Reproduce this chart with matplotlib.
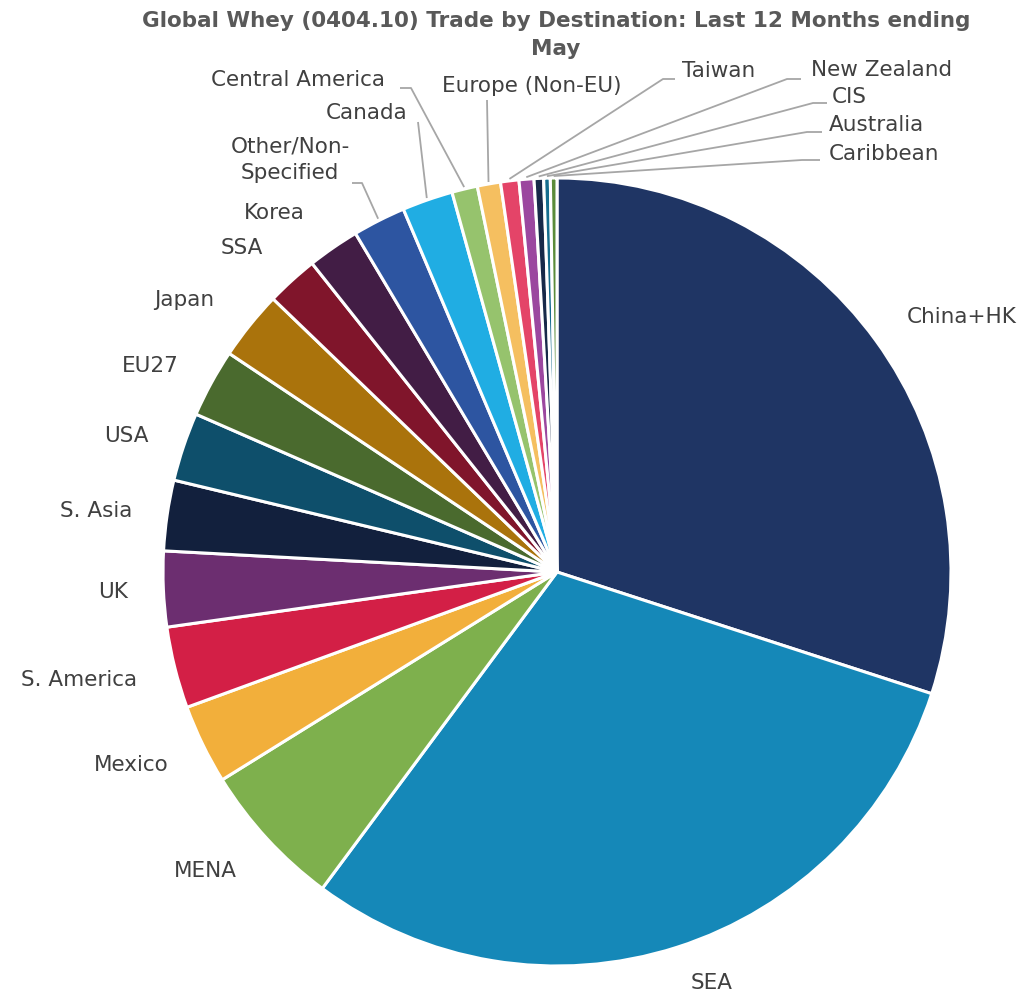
import matplotlib
matplotlib.use("Agg")
import matplotlib.pyplot as plt
import numpy as np

# Share of global whey (0404.10) trade by destination, % of total
categories = [
    "China+HK", "SEA", "MENA", "Mexico", "S. America", "UK", "S. Asia", "USA",
    "EU27", "Japan", "SSA", "Korea", "Other/Non-\nSpecified", "Canada",
    "Central America", "Europe (Non-EU)", "Taiwan", "New Zealand", "CIS",
    "Australia", "Caribbean",
]
shares = [
    29.98, 30.14, 6.00, 3.26, 3.34, 3.09, 2.89, 2.81,
    2.80, 2.83, 2.13, 2.13, 2.17, 2.08,
    1.05, 0.95, 0.75, 0.61, 0.39,
    0.27, 0.27,
]
colors = [
    "#1F3564", "#1588B8", "#7EB04D", "#F2AF3B", "#D31F46", "#6C2E70", "#12203D", "#0E4F6B",
    "#4A6A2E", "#AA730C", "#80152B", "#421D45", "#2D55A1", "#20ADE3",
    "#96C36D", "#F5BF60", "#E44468", "#9B479F", "#172949",
    "#156D8E", "#5B8C3A",
]

W, H = 1030, 996
CX, CY, R = 557, 572, 394


def to_data(px, py):
    return ((px - CX) / R, (CY - py) / R)


# label anchors in pixel space: (x, y, ha)
label_pos = {
    "China+HK": (962, 317, "center"),
    "SEA": (712, 983, "center"),
    "MENA": (205, 871, "center"),
    "Mexico": (131, 765, "center"),
    "S. America": (79, 680, "center"),
    "UK": (113, 592, "center"),
    "S. Asia": (96, 511, "center"),
    "USA": (126, 436, "center"),
    "EU27": (150, 366, "center"),
    "Japan": (184, 300, "center"),
    "SSA": (242, 248, "center"),
    "Korea": (274, 213, "center"),
    "Other/Non-\nSpecified": (290, 160, "center"),
    "Canada": (367, 113, "center"),
    "Central America": (298, 80, "center"),
    "Europe (Non-EU)": (532, 86, "center"),
    "Taiwan": (719, 71, "center"),
    "New Zealand": (882, 70, "center"),
    "CIS": (849, 97, "center"),
    "Australia": (876, 125, "center"),
    "Caribbean": (884, 154, "center"),
}

# leader lines: points from the label side toward the slice
leaders = {
    "Other/Non-\nSpecified": [(352, 183), (362, 183)],
    "Canada": [(418, 122)],
    "Central America": [(400, 88), (411, 88)],
    "Europe (Non-EU)": [(487, 100)],
    "Taiwan": [(675, 79), (663, 79)],
    "New Zealand": [(801, 79), (787, 79)],
    "CIS": [(827, 103), (813, 103)],
    "Australia": [(822, 132), (807, 132)],
    "Caribbean": [(820, 160), (802, 160)],
}

fig = plt.figure(figsize=(W / 100, H / 100), dpi=100)
ax = fig.add_axes([0, 0, 1, 1])

ax.pie(
    shares, colors=colors, startangle=90, counterclock=False, radius=1,
    wedgeprops=dict(edgecolor="white", linewidth=2.2),
)
ax.set_aspect("auto")
ax.set_xlim(-CX / R, (W - CX) / R)
ax.set_ylim(-(H - CY) / R, CY / R)
ax.axis("off")

total = sum(shares)
cum = np.cumsum([0] + shares[:-1])
text_color = "#404040"
line_color = "#A6A6A6"

for name, start, s in zip(categories, cum, shares):
    mid = np.deg2rad(90 - 360 * (start + s / 2) / total)
    px, py, ha = label_pos[name]
    tx, ty = to_data(px, py)
    ax.text(tx, ty, name, ha=ha, va="center", fontsize=15.5, color=text_color,
            linespacing=1.4)
    if name in leaders:
        pts = [to_data(*p) for p in leaders[name]]
        pts.append((1.005 * np.cos(mid), 1.005 * np.sin(mid)))
        xs, ys = zip(*pts)
        ax.plot(xs, ys, color=line_color, lw=1.3, solid_capstyle="butt")

fig.text(556 / W, 1 - 35 / H,
         "Global Whey (0404.10) Trade by Destination: Last 12 Months ending\nMay",
         ha="center", va="center", fontsize=15.5, fontweight="bold",
         color="#595959", linespacing=1.45)

fig.savefig("out.png", dpi=100, facecolor="white")
